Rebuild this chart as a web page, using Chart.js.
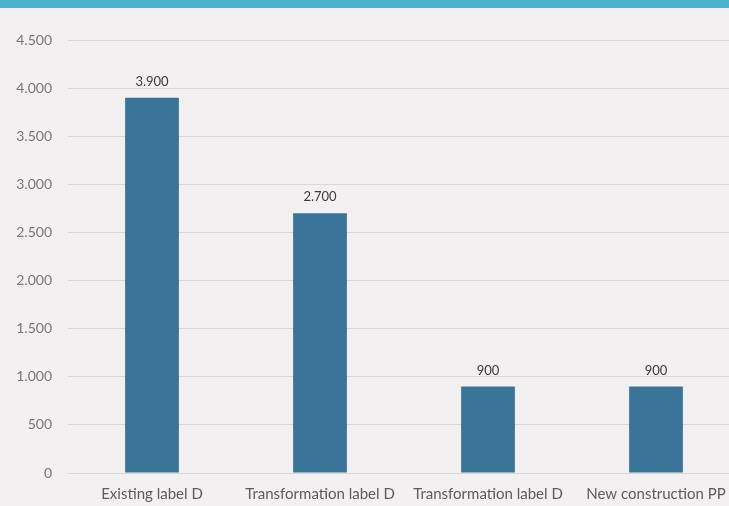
<!DOCTYPE html>
<html>
<head>
<meta charset="utf-8">
<script src="https://cdn.jsdelivr.net/npm/chart.js@4.4.1/dist/chart.umd.min.js"></script>
<style>
	html, body { margin: 0; padding: 0; background: #f2f0f0; overflow: hidden; }
	.top-band { position: absolute; left: 0; top: 0; width: 729px; height: 8px; background: #4ab4ce; }
	.container-canvas { position: absolute; left: 0; top: 0; width: 745px; height: 506px; }
</style>
</head>
<body>
<div class="container-canvas"><canvas id="myChart" width="745" height="506"></canvas></div>
<div class="top-band"></div>
<script>
const categories = ['Existing label D', 'Transformation label D', 'Transformation label D', 'New construction PP'];
const values = [3900, 2700, 900, 900];
const yTicks = [0, 500, 1000, 1500, 2000, 2500, 3000, 3500, 4000, 4500];

// thousands with a dot, e.g. 3.900
const fmt = v => String(v).replace(/\B(?=(\d{3})+(?!\d))/g, '.');

// value printed above each bar
const barLabels = {
	id: 'barLabels',
	afterDatasetsDraw(chart) {
		const ctx = chart.ctx;
		const meta = chart.getDatasetMeta(0);
		ctx.save();
		ctx.font = '13px Lato';
		ctx.fillStyle = '#3a3a3a';
		ctx.textAlign = 'center';
		ctx.textBaseline = 'middle';
		meta.data.forEach((bar, i) => {
			ctx.fillText(fmt(values[i]), bar.x, bar.y - 16);
		});
		ctx.restore();
	}
};

const ctx = document.getElementById('myChart');
const myChart = new Chart(ctx, {
	type: 'bar',
	data: {
		labels: categories,
		datasets: [{
			data: values,
			backgroundColor: '#3a7499',
			barPercentage: 0.8,
			categoryPercentage: 0.4
		}]
	},
	options: {
		responsive: false,
		animation: false,
		layout: { padding: { top: 40, right: 5, left: 0, bottom: 0 } },
		plugins: { legend: { display: false }, tooltip: { enabled: false } },
		scales: {
			x: {
				grid: { display: false },
				border: { display: false },
				ticks: { color: '#5c5c5c', font: { family: 'Lato', size: 15 }, padding: 4, maxRotation: 0, autoSkip: false },
				afterFit: scale => { scale.height = 33; }
			},
			y: {
				min: 0,
				max: 4500,
				afterBuildTicks: scale => { scale.ticks = yTicks.map(v => ({ value: v })); },
				grid: { color: '#d8d6d6', drawTicks: false },
				border: { display: false },
				ticks: { color: '#777', font: { family: 'Lato', size: 14 }, padding: 16, callback: v => fmt(v) },
				afterFit: scale => { scale.width = 68; }
			}
		}
	},
	plugins: [barLabels]
});
</script>
</body>
</html>
